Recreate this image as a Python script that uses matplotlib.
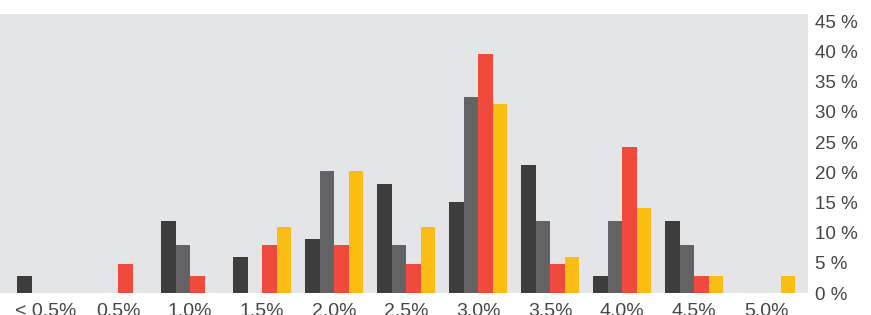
import matplotlib
matplotlib.use("Agg")
import matplotlib.pyplot as plt
import numpy as np

plt.rcParams['font.family'] = ['Liberation Sans', 'DejaVu Sans']

categories = ["< 0.5%", "0.5%", "1.0%", "1.5%", "2.0%", "2.5%", "3.0%", "3.5%", "4.0%", "4.5%", "5.0%"]
series_a = [2.8, 0, 11.9, 6.0, 9.0, 18.1, 15.1, 21.2, 2.8, 11.9, 0]
series_b = [0, 0, 8.0, 0, 20.2, 8.0, 32.5, 11.9, 11.9, 8.0, 0]
series_c = [0, 4.8, 2.8, 8.0, 8.0, 4.8, 39.6, 4.8, 24.2, 2.8, 0]
series_d = [0, 0, 0, 10.9, 20.2, 10.9, 31.3, 6.0, 14.1, 2.8, 2.8]
y_ticks = [0, 5, 10, 15, 20, 25, 30, 35, 40, 45]

colors = ["#3d3d3d", "#636265", "#ef4a3c", "#fbbd14"]

fig = plt.figure(figsize=(8.71, 3.15), dpi=100)
ax = fig.add_axes([0.0, 1 - 293/315, 808/871, (293 - 14)/315])
ax.set_facecolor("#e4e5e7")

x = np.arange(len(categories))
w = 0.2
for i, (vals, c) in enumerate(zip([series_a, series_b, series_c, series_d], colors)):
    ax.bar(x + (i - 1.5) * w, vals, width=w, color=c, linewidth=0)

ax.set_xlim(-0.64, 10.58)
ax.set_ylim(0, 46.2)
ax.set_xticks(x)
ax.set_xticklabels(categories)
ax.set_yticks(y_ticks)
ax.set_yticklabels([f"{t} %" for t in y_ticks])
ax.yaxis.tick_right()
ax.tick_params(axis='both', length=0, colors="#464646")
ax.tick_params(axis='y', pad=5, labelsize=13.5)
ax.tick_params(axis='x', pad=7, labelsize=14)
for s in ax.spines.values():
    s.set_visible(False)

fig.savefig("out.png", dpi=100)
